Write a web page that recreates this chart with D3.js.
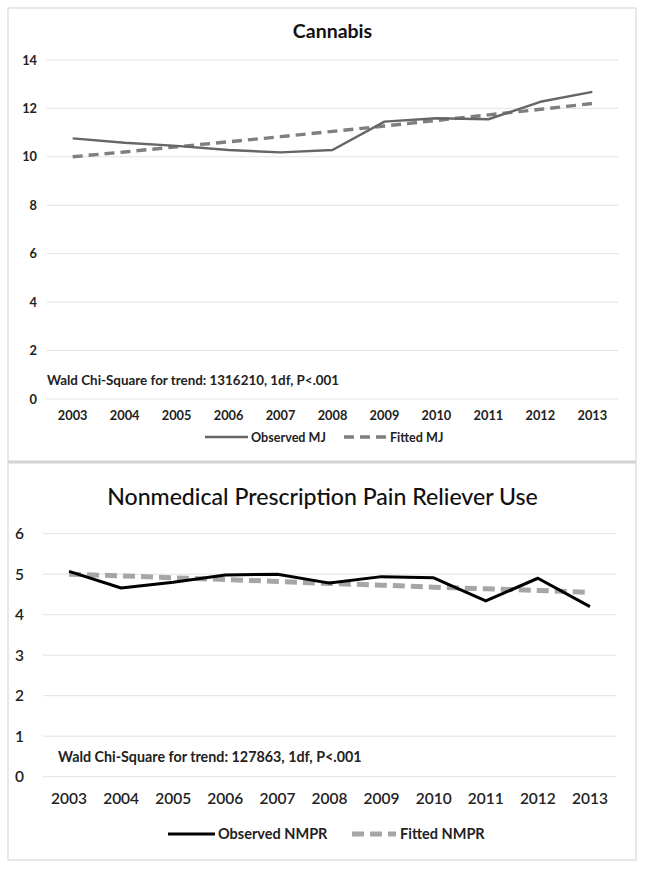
<!DOCTYPE html>
<html><head><meta charset="utf-8">
<script src="https://cdn.jsdelivr.net/npm/d3@7"></script>
<style>body{margin:0;background:#fff}svg{display:block}text{font-family:Lato,"Open Sans",sans-serif}</style>
</head><body><svg id="c" width="645" height="870"></svg>
<script>
const years = ["2003","2004","2005","2006","2007","2008","2009","2010","2011","2012","2013"];
const observedMJ = [10.76,10.58,10.45,10.28,10.18,10.28,11.45,11.59,11.55,12.27,12.68];
const fittedMJ = [10.0,10.2,10.41,10.62,10.83,11.05,11.27,11.5,11.73,11.96,12.2];
const observedNMPR = [5.07,4.66,4.8,4.98,5.0,4.78,4.94,4.91,4.34,4.9,4.2];
const fittedNMPR = [5.0,4.96,4.91,4.87,4.82,4.77,4.73,4.68,4.64,4.6,4.55];
const mjTicks = [0,2,4,6,8,10,12,14];
const nmprTicks = [0,1,2,3,4,5,6];

const svg = d3.select("#c");
svg.append("rect").attr("x",8).attr("y",8).attr("width",628).attr("height",852)
  .attr("fill","#fff").attr("stroke","#d9d9d9").attr("stroke-width",1.2);
svg.append("line").attr("x1",8).attr("x2",636).attr("y1",462).attr("y2",462)
  .attr("stroke","#d4d4d4").attr("stroke-width",3);

function panel(o){
  const x = d3.scaleBand().domain(years).range(o.xr);
  const y = d3.scaleLinear().domain(o.yd).range(o.yr);
  const g = svg.append("g");
  g.append("g").selectAll("line").data(o.ticks).join("line")
    .attr("x1",o.xr[0]).attr("x2",o.xr[1])
    .attr("y1",d=>y(d)).attr("y2",d=>y(d))
    .attr("stroke","#e2e2e2").attr("stroke-width",1);
  g.append("g").selectAll("text").data(o.ticks).join("text")
    .attr("x",o.ylx).attr("y",d=>y(d)+o.tfs*0.36).attr("text-anchor","end")
    .attr("font-size",o.tfs).attr("font-weight",o.tfw).attr("fill","#222").text(d=>d);
  g.append("g").selectAll("text").data(years).join("text")
    .attr("x",d=>x(d)+x.bandwidth()/2).attr("y",o.xly).attr("text-anchor","middle")
    .attr("font-size",o.tfs).attr("font-weight",o.tfw).attr("fill","#222").text(d=>d);
  g.append("text").attr("x",(o.xr[0]+o.xr[1])/2+ (o.titleDx||0)).attr("y",o.titleY).attr("text-anchor","middle")
    .attr("font-size",o.titleFs).attr("font-weight",o.titleFw).attr("fill","#111").text(o.title);
  g.append("text").attr("x",o.noteX).attr("y",o.noteY)
    .attr("font-size",o.noteFs).attr("font-weight","bold").attr("fill","#222").text(o.note);
  const line = d3.line().x((d,i)=>x(years[i])+x.bandwidth()/2).y(d=>y(d));
  g.append("path").datum(o.fit).attr("d",line).attr("fill","none")
    .attr("stroke",o.fitC).attr("stroke-width",o.fitW).attr("stroke-dasharray",o.dash);
  g.append("path").datum(o.obs).attr("d",line).attr("fill","none")
    .attr("stroke",o.obsC).attr("stroke-width",o.obsW).attr("stroke-linejoin","round");
  const L = o.leg;
  g.append("line").attr("x1",L.x1).attr("x2",L.x1+L.len).attr("y1",L.y).attr("y2",L.y)
    .attr("stroke",o.obsC).attr("stroke-width",o.obsW);
  g.append("text").attr("x",L.x1+L.len+3).attr("y",L.y+L.fs*0.36).attr("font-size",L.fs)
    .attr("font-weight","bold").attr("fill","#222").text(L.t1);
  g.append("line").attr("x1",L.x2).attr("x2",L.x2+L.len2).attr("y1",L.y).attr("y2",L.y)
    .attr("stroke",o.fitC).attr("stroke-width",o.fitW).attr("stroke-dasharray",o.dash);
  g.append("text").attr("x",L.x2+L.len2+4).attr("y",L.y+L.fs*0.36).attr("font-size",L.fs)
    .attr("font-weight","bold").attr("fill","#222").text(L.t2);
}

panel({xr:[46.7,618.3], yd:[0,14], yr:[399,59.9], ticks:mjTicks, ylx:37, xly:419.5, tfs:12.8, tfw:"bold",
  title:"Cannabis", titleY:38, titleFs:19.5, titleFw:"bold",
  note:"Wald Chi-Square for trend: 1316210, 1df, P<.001", noteX:47, noteY:385, noteFs:13.4,
  obs:observedMJ, fit:fittedMJ, obsC:"#666", obsW:2.4, fitC:"#7f7f7f", fitW:3.4, dash:"10,6",
  leg:{x1:205,len:43,x2:344,len2:42,y:437,fs:12.6,t1:"Observed MJ",t2:"Fitted MJ"}});

panel({xr:[43,616], yd:[0,6], yr:[776.7,533.7], ticks:nmprTicks, ylx:24, xly:804, tfs:15.5, tfw:"600",
  title:"Nonmedical Prescription Pain Reliever Use", titleY:505, titleFs:23.1, titleFw:"500", titleDx:-7,
  note:"Wald Chi-Square for trend: 127863, 1df, P<.001", noteX:58, noteY:762, noteFs:14.3,
  obs:observedNMPR, fit:fittedNMPR, obsC:"#000", obsW:3, fitC:"#a6a6a6", fitW:5, dash:"12,6",
  leg:{x1:168,len:47,x2:352,len2:44,y:834,fs:14.5,t1:"Observed NMPR",t2:"Fitted NMPR"}});
</script></body></html>
